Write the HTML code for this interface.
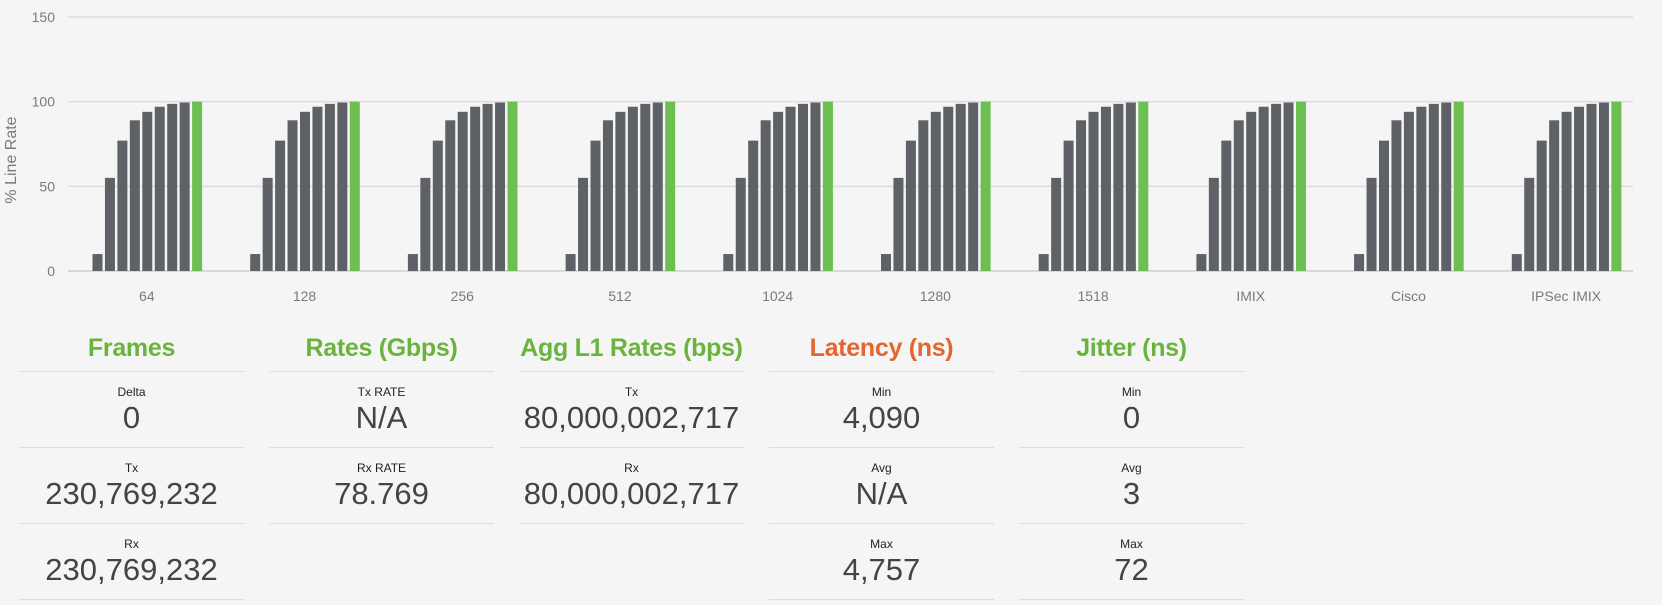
<!DOCTYPE html>
<html><head><meta charset="utf-8">
<style>
body{margin:0;background:#f5f5f5;width:1662px;height:605px;overflow:hidden;font-family:"Liberation Sans",sans-serif;}
#chart{position:absolute;left:0;top:0}
.col{position:absolute;top:326px;width:225px;text-align:center}
.hd{font-family:"Liberation Sans Narrow","Liberation Sans",sans-serif;font-weight:bold;font-size:25px;height:45px;line-height:44px;color:#6ab43e;border-bottom:1px solid #dcdcdc;letter-spacing:-0.3px}
.row{height:75px;border-bottom:1px solid #dcdcdc}
.lb{font-size:12px;color:#222;padding-top:13px;line-height:14px}
.vl{font-size:31px;color:#444;line-height:38px}
</style></head><body>
<svg id="chart" width="1662" height="320"></svg>
<div class="col" style="left:19px">
<div class="hd">Frames</div>
<div class="row"><div class="lb">Delta</div><div class="vl">0</div></div>
<div class="row"><div class="lb">Tx</div><div class="vl">230,769,232</div></div>
<div class="row"><div class="lb">Rx</div><div class="vl">230,769,232</div></div>
</div>
<div class="col" style="left:269px">
<div class="hd">Rates (Gbps)</div>
<div class="row"><div class="lb">Tx RATE</div><div class="vl">N/A</div></div>
<div class="row"><div class="lb">Rx RATE</div><div class="vl">78.769</div></div>
</div>
<div class="col" style="left:519px">
<div class="hd">Agg L1 Rates (bps)</div>
<div class="row"><div class="lb">Tx</div><div class="vl">80,000,002,717</div></div>
<div class="row"><div class="lb">Rx</div><div class="vl">80,000,002,717</div></div>
</div>
<div class="col" style="left:769px">
<div class="hd" style="color:#e2662f">Latency (ns)</div>
<div class="row"><div class="lb">Min</div><div class="vl">4,090</div></div>
<div class="row"><div class="lb">Avg</div><div class="vl">N/A</div></div>
<div class="row"><div class="lb">Max</div><div class="vl">4,757</div></div>
</div>
<div class="col" style="left:1019px">
<div class="hd">Jitter (ns)</div>
<div class="row"><div class="lb">Min</div><div class="vl">0</div></div>
<div class="row"><div class="lb">Avg</div><div class="vl">3</div></div>
<div class="row"><div class="lb">Max</div><div class="vl">72</div></div>
</div>
<script>
const categories=["64","128","256","512","1024","1280","1518","IMIX","Cisco","IPSec IMIX"];
const stepValues=[10,55,77,89,94,97,98.7,99.5,100];
const yTicks=[0,50,100,150];
const svg=document.getElementById('chart');
const NS='http://www.w3.org/2000/svg';
const X0=68,X1=1645,XEND=1633,Y0=271,Y150=17;
const y=v=>Y0-(Y0-Y150)*v/150;
const gw=(X1-X0)/categories.length;
function mk(t,a){const e=document.createElementNS(NS,t);for(const k in a)e.setAttribute(k,a[k]);svg.appendChild(e);return e;}
yTicks.forEach(t=>{
  const l=mk('line',{x1:X0,x2:XEND,y1:y(t),y2:y(t),stroke:t===0?'#cfcfcf':'#dcdcdc','stroke-width':1.5});
  
  
  const tx=mk('text',{x:55,y:y(t)+5,'text-anchor':'end','font-size':14,fill:'#7a7a7a','font-family':'Liberation Sans, sans-serif'});
  tx.textContent=t;
  
  
});
const yt=mk('text',{x:0,y:0,transform:'translate(16,160) rotate(-90)','text-anchor':'middle','font-size':16,fill:'#7a7a7a','font-family':'Liberation Sans, sans-serif'});
yt.textContent='% Line Rate';


const pitch=12.45,bw=10,off=24.5;
categories.forEach((c,i)=>{
  const gx=X0+i*gw;
  stepValues.forEach((v,j)=>{
    const last=j===stepValues.length-1;
    const r=mk('rect',{x:gx+off+j*pitch,y:y(v),width:bw,height:Y0-y(v),fill:last?'#6cbf50':'#5e6166'});
    
    
  });
  const t=mk('text',{x:gx+gw/2,y:301,'text-anchor':'middle','font-size':14,fill:'#7a7a7a','font-family':'Liberation Sans, sans-serif'});
  t.textContent=c;
  
  
});
</script>
</body></html>
